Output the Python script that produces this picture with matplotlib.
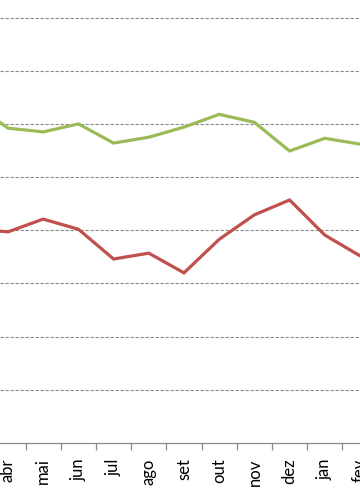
import matplotlib
matplotlib.use("Agg")
import matplotlib.pyplot as plt

months = ["mar", "abr", "mai", "jun", "jul", "ago", "set", "out", "nov", "dez", "jan", "fev"]

green = [6.40, 5.92, 5.85, 6.00, 5.64, 5.75, 5.94, 6.18, 6.03, 5.49, 5.73, 5.62]
red = [4.03, 3.97, 4.21, 4.02, 3.46, 3.57, 3.20, 3.83, 4.29, 4.57, 3.91, 3.52]

plt.rcParams["font.family"] = ["Lato", "DejaVu Sans"]

fig = plt.figure(figsize=(3.6, 5.04), dpi=100)
ax = fig.add_axes([0, 0.121, 1, 0.879])

x = list(range(len(months)))
ax.plot(x, green, color="#9BBB59", lw=2.3, solid_joinstyle="miter", zorder=3)
ax.plot(x, red, color="#C0504D", lw=2.3, solid_joinstyle="miter", zorder=3)

# gridlines
ax.set_yticks(range(1, 9))
ax.yaxis.grid(True, color="#8a8a8a", lw=0.8, linestyle=(0, (3, 1.5)))
ax.tick_params(axis="y", left=False, labelleft=False)

# tick marks between categories, labels on categories
ax.set_xticks([i + 0.5 for i in x])
ax.set_xticklabels([])
ax.set_xticks(x, minor=True)
ax.set_xticklabels(months, minor=True, rotation=90, fontsize=12)
ax.tick_params(axis="x", which="major", length=5, width=0.9, color="#8a8a8a", direction="out")
ax.tick_params(axis="x", which="minor", length=0, pad=11)

# the view is cropped: first category sits left of the frame, last one on the edge
ax.set_xlim(0.773, 11.0)
ax.set_ylim(0, 8.33)

for s in ["left", "right", "top"]:
    ax.spines[s].set_visible(False)
ax.spines["bottom"].set_color("#8a8a8a")
ax.spines["bottom"].set_linewidth(0.9)

fig.savefig("out.png", dpi=100)
